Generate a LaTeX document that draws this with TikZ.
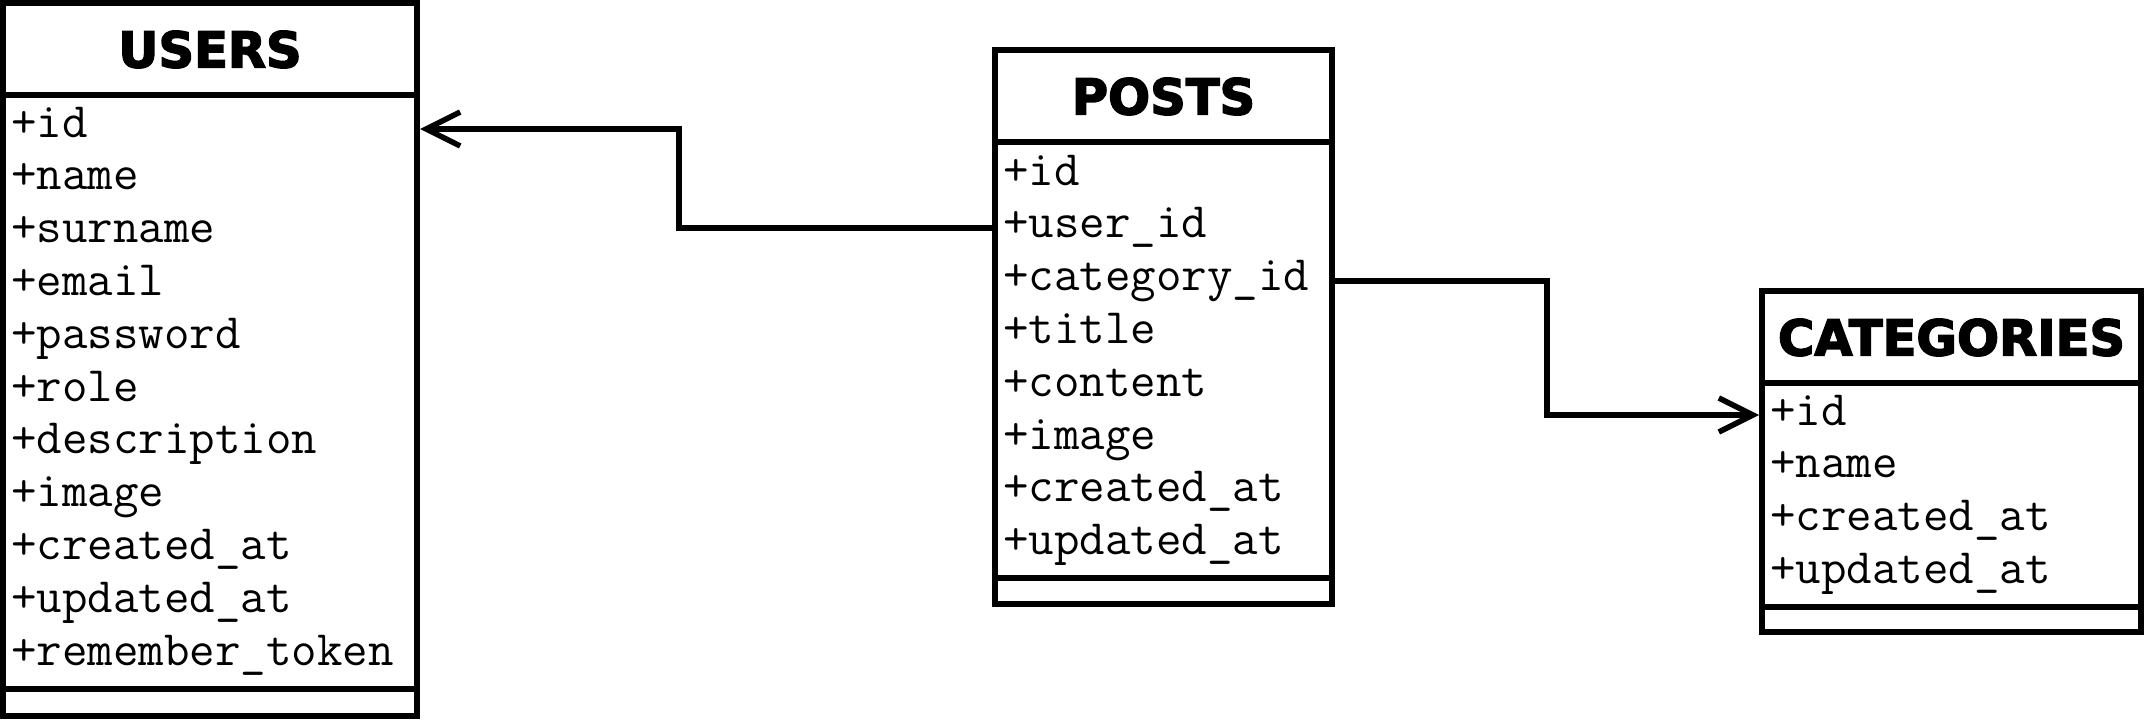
\documentclass[tikz,border=0pt]{standalone}
\usepackage{fontspec}
\usetikzlibrary{arrows.meta}
\newfontfamily\headf{DejaVu Sans}[BoldFeatures={FakeBold=3}]
\begin{document}
\begin{tikzpicture}[x=1pt,y=-1pt,
  box/.style={draw, line width=6pt, inner sep=0pt, outer sep=3pt, rectangle},
  sepline/.style={line width=6pt},
  ttl/.style={anchor=base, inner sep=0pt, font=\headf\bfseries\fontsize{49.5}{50}\selectfont},
  fld/.style={anchor=base west, inner sep=0pt, font=\ttfamily\fontsize{49.5}{50}\selectfont},
  conn/.style={line width=5.5pt, -{Straight Barb[length=34pt,width=34pt]}}]
\path[use as bounding box, fill=white] (0,0) rectangle (2147,720);

% USERS
\node[box, minimum width=414pt, minimum height=713pt] (users) at (210,359.5) {};
\node[ttl] (usersT) at (210,67.5) {USERS};
\draw[sepline] (users.west |- 0,95) -- (users.east |- 0,95);
\draw[sepline] (users.west |- 0,689) -- (users.east |- 0,689);
\foreach \t [count=\i from 0] in {+id,+name,+surname,+email,+password,+role,+description,+image,+created\_at,+updated\_at,+remember\_token}{
  \node[fld] (u\i) at (11,137+52.8*\i) {\t};
}

% POSTS
\node[box, minimum width=337pt, minimum height=554pt] (posts) at (1163.5,327) {};
\node[ttl] (postsT) at (1163.5,114.5) {POSTS};
\draw[sepline] (posts.west |- 0,142) -- (posts.east |- 0,142);
\draw[sepline] (posts.west |- 0,578) -- (posts.east |- 0,578);
\foreach \t [count=\i from 0] in {+id,+user\_id,+category\_id,+title,+content,+image,+created\_at,+updated\_at}{
  \node[fld] (p\i) at (1003,185+52.8*\i) {\t};
}

% CATEGORIES
\node[box, minimum width=379pt, minimum height=341pt] (cats) at (1951.5,461.5) {};
\node[ttl] (catsT) at (1951.5,355.5) {CATEGORIES};
\draw[sepline] (cats.west |- 0,383) -- (cats.east |- 0,383);
\draw[sepline] (cats.west |- 0,607) -- (cats.east |- 0,607);
\foreach \t [count=\i from 0] in {+id,+name,+created\_at,+updated\_at}{
  \node[fld] (c\i) at (1770,425+52.8*\i) {\t};
}

% connectors
\draw[conn] (posts.west |- 0,228) -- (679,228) -- (679,129) -- (users.east |- 0,129);
\draw[conn] (posts.east |- 0,281) -- (1547,281) -- (1547,415) -- (cats.west |- 0,415);
\end{tikzpicture}
\end{document}
